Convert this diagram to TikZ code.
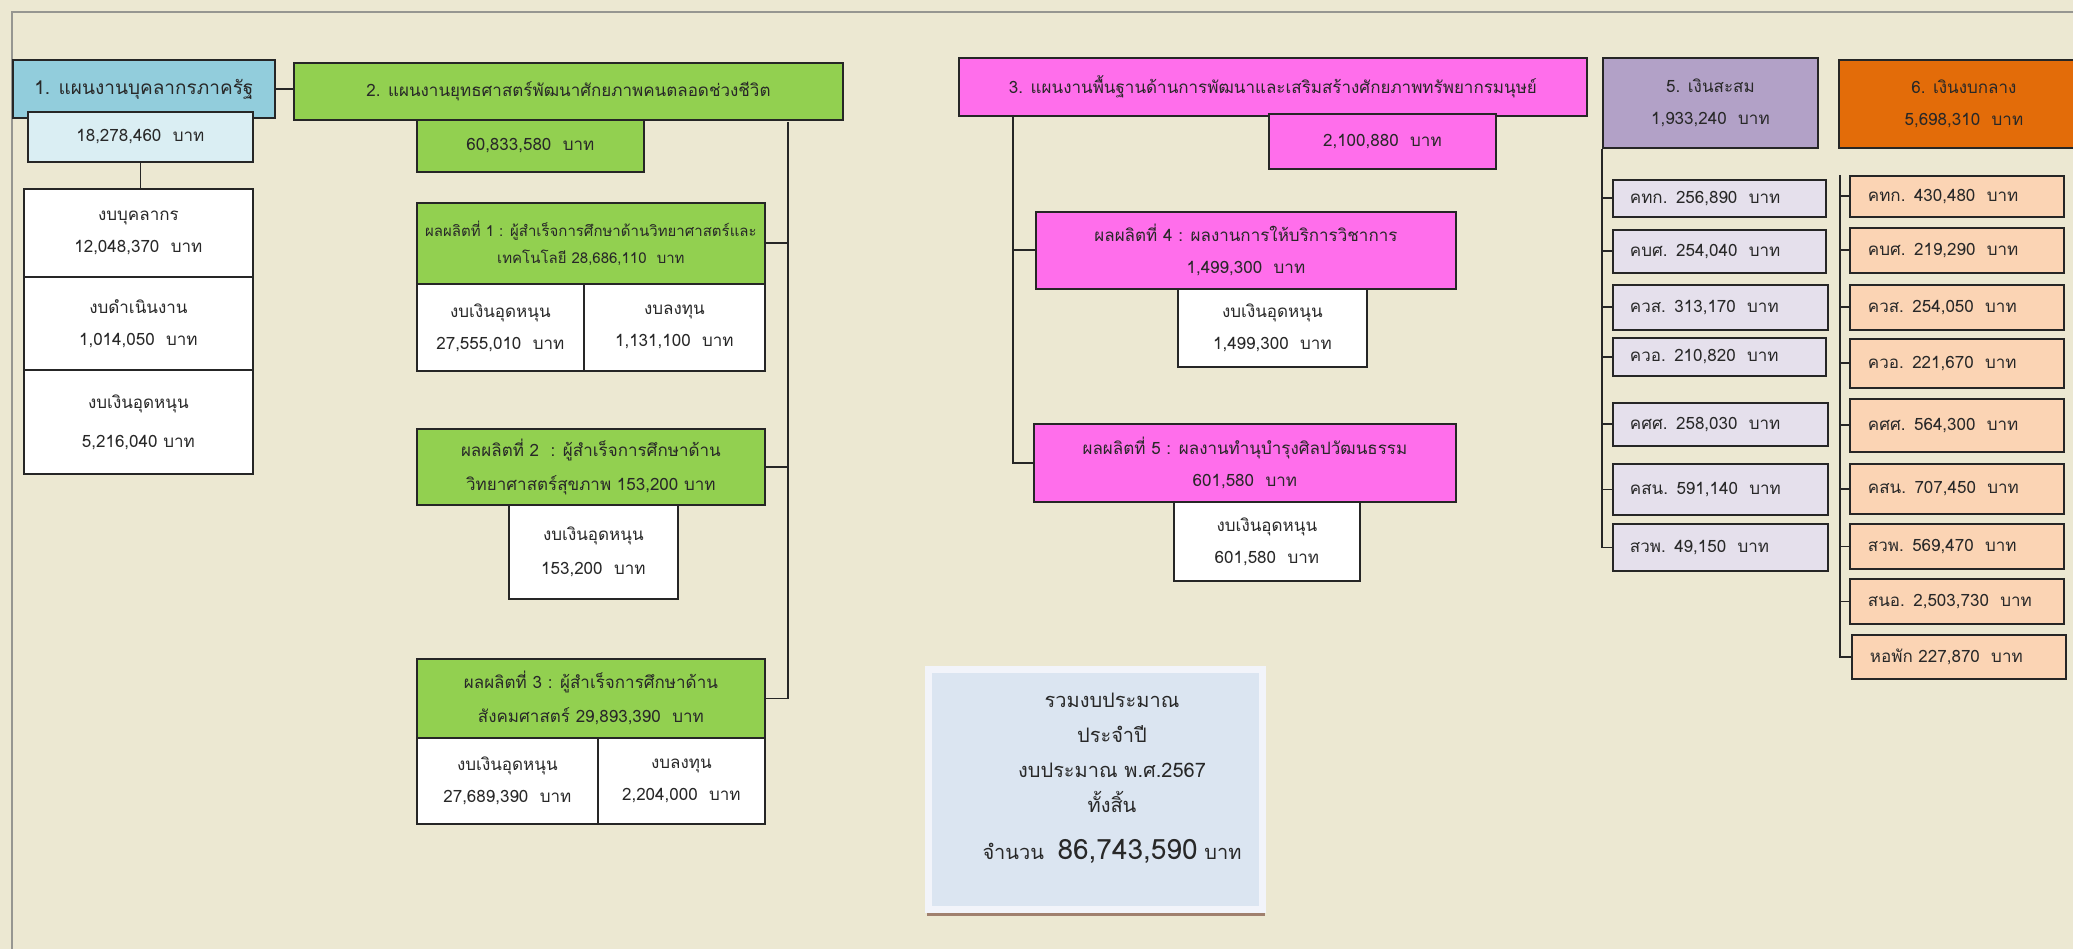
\documentclass[tikz,border=0pt]{standalone}
\usepackage{fontspec}
\newfontfamily\thai[Script=Thai]{Loma}
\definecolor{bgc}{RGB}{236,232,210}
\definecolor{framec}{RGB}{150,150,145}
\definecolor{hblue}{RGB}{146,205,220}
\definecolor{lblue}{RGB}{218,238,243}
\definecolor{grn}{RGB}{146,208,80}
\definecolor{mag}{RGB}{255,110,235}
\definecolor{purp}{RGB}{178,161,199}
\definecolor{lpurp}{RGB}{229,224,236}
\definecolor{orng}{RGB}{227,108,9}
\definecolor{lorng}{RGB}{251,212,180}
\definecolor{totc}{RGB}{219,229,241}
\definecolor{totb}{RGB}{242,244,250}
\definecolor{shadc}{RGB}{160,128,110}
\definecolor{txt}{RGB}{40,40,40}
\tikzset{
  bx/.style={draw=black!85, line width=1.8pt, anchor=north west, inner sep=0pt,
    align=center, text=txt, font=\thai\fontsize{17}{32}\selectfont},
  sm/.style={font=\thai\fontsize{15}{27}\selectfont},
  md/.style={font=\thai\fontsize{17}{34}\selectfont},
  kid/.style={bx, align=left, text width=#1, inner xsep=17pt},
  conn/.style={draw=black!85, line width=1.8pt},
}
\begin{document}
\begin{tikzpicture}[x=1pt,y=-1pt]
\clip (0,0) rectangle (2073,949);
\fill[bgc] (0,0) rectangle (2073,949);
\draw[framec, line width=2pt] (12,949) -- (12,12) -- (2073,12);
% plan 1
\node[bx, fill=hblue, minimum width=262pt, minimum height=58pt, font=\thai\fontsize{19}{32}\selectfont] (h1) at (12,59) {1. แผนงานบุคลากรภาครัฐ};
\node[bx, fill=lblue, minimum width=225pt, minimum height=50pt] (v1) at (27,111) {18,278,460 \ บาท};
\node[bx, fill=white, minimum width=229pt, minimum height=88pt] (t1a) at (23,188) {งบบุคลากร\\12,048,370 \ บาท};
\node[bx, fill=white, minimum width=229pt, minimum height=93pt] (t1b) at (23,276) {งบดำเนินงาน\\1,014,050 \ บาท};
\node[bx, fill=white, minimum width=229pt, minimum height=104pt, font=\thai\fontsize{17}{39}\selectfont] (t1c) at (23,369) {งบเงินอุดหนุน\\5,216,040 บาท};
% plan 2
\node[bx, fill=grn, minimum width=549pt, minimum height=57pt] (h2) at (293,62) {2. แผนงานยุทธศาสตร์พัฒนาศักยภาพคนตลอดช่วงชีวิต};
\node[bx, fill=grn, minimum width=227pt, minimum height=52pt] (v2) at (416,119) {60,833,580 \ บาท};
\node[bx, sm, fill=grn, minimum width=348pt, minimum height=81pt] (p1) at (416,202) {ผลผลิตที่ 1 : ผู้สำเร็จการศึกษาด้านวิทยาศาสตร์และ\\เทคโนโลยี 28,686,110 \ บาท};
\node[bx, fill=white, minimum width=167pt, minimum height=87pt] (p1a) at (416,283) {งบเงินอุดหนุน\\27,555,010 \ บาท};
\node[bx, fill=white, minimum width=181pt, minimum height=87pt] (p1b) at (583,283) {งบลงทุน\\1,131,100 \ บาท};
\node[bx, md, fill=grn, minimum width=348pt, minimum height=76pt] (p2) at (416,428) {ผลผลิตที่ 2 \ : ผู้สำเร็จการศึกษาด้าน\\วิทยาศาสตร์สุขภาพ 153,200 บาท};
\node[bx, md, fill=white, minimum width=169pt, minimum height=94pt] (p2a) at (508,504) {งบเงินอุดหนุน\\153,200 \ บาท};
\node[bx, md, fill=grn, minimum width=348pt, minimum height=79pt] (p3) at (416,658) {ผลผลิตที่ 3 : ผู้สำเร็จการศึกษาด้าน\\สังคมศาสตร์ 29,893,390 \ บาท};
\node[bx, fill=white, minimum width=181pt, minimum height=86pt] (p3a) at (416,737) {งบเงินอุดหนุน\\27,689,390 \ บาท};
\node[bx, fill=white, minimum width=167pt, minimum height=86pt] (p3b) at (597,737) {งบลงทุน\\2,204,000 \ บาท};
% plan 3
\node[bx, fill=mag, minimum width=628pt, minimum height=58pt] (h3) at (958,57) {3. แผนงานพื้นฐานด้านการพัฒนาและเสริมสร้างศักยภาพทรัพยากรมนุษย์};
\node[bx, fill=mag, minimum width=227pt, minimum height=55pt] (v3) at (1268,113) {2,100,880 \ บาท};
\node[bx, fill=mag, minimum width=420pt, minimum height=77pt] (p4) at (1035,211) {ผลผลิตที่ 4 : ผลงานการให้บริการวิชาการ\\1,499,300 \ บาท};
\node[bx, fill=white, minimum width=189pt, minimum height=78pt] (p4a) at (1177,288) {งบเงินอุดหนุน\\1,499,300 \ บาท};
\node[bx, fill=mag, minimum width=422pt, minimum height=78pt] (p5) at (1033,423) {ผลผลิตที่ 5 : ผลงานทำนุบำรุงศิลปวัฒนธรรม\\601,580 \ บาท};
\node[bx, fill=white, minimum width=186pt, minimum height=79pt] (p5a) at (1173,501) {งบเงินอุดหนุน\\601,580 \ บาท};
% plan 5
\node[bx, fill=purp, minimum width=215pt, minimum height=90pt] (h5) at (1602,57) {5. เงินสะสม\\1,933,240 \ บาท};
\node[kid=179pt, fill=lpurp, minimum height=37pt] (c5a) at (1612,179) {คทก. 256,890 \ บาท};
\node[kid=179pt, fill=lpurp, minimum height=43pt] (c5b) at (1612,229) {คบศ. 254,040 \ บาท};
\node[kid=181pt, fill=lpurp, minimum height=45pt] (c5c) at (1612,284) {ควส. 313,170 \ บาท};
\node[kid=179pt, fill=lpurp, minimum height=38pt] (c5d) at (1612,337) {ควอ. 210,820 \ บาท};
\node[kid=181pt, fill=lpurp, minimum height=43pt] (c5e) at (1612,402) {คศศ. 258,030 \ บาท};
\node[kid=181pt, fill=lpurp, minimum height=51pt] (c5f) at (1612,463) {คสน. 591,140 \ บาท};
\node[kid=181pt, fill=lpurp, minimum height=47pt] (c5g) at (1612,523) {สวพ. 49,150 \ บาท};
% plan 6
\node[bx, fill=orng, minimum width=250pt, minimum height=88pt] (h6) at (1838,59) {6. เงินงบกลาง\\5,698,310 \ บาท};
\node[kid=178pt, inner xsep=18pt, fill=lorng, minimum height=41pt] (c6a) at (1849,175) {คทก. 430,480 \ บาท};
\node[kid=178pt, inner xsep=18pt, fill=lorng, minimum height=45pt] (c6b) at (1849,227) {คบศ. 219,290 \ บาท};
\node[kid=178pt, inner xsep=18pt, fill=lorng, minimum height=45pt] (c6c) at (1849,284) {ควส. 254,050 \ บาท};
\node[kid=178pt, inner xsep=18pt, fill=lorng, minimum height=49pt] (c6d) at (1849,338) {ควอ. 221,670 \ บาท};
\node[kid=178pt, inner xsep=18pt, fill=lorng, minimum height=53pt] (c6e) at (1849,398) {คศศ. 564,300 \ บาท};
\node[kid=178pt, inner xsep=18pt, fill=lorng, minimum height=50pt] (c6f) at (1849,463) {คสน. 707,450 \ บาท};
\node[kid=178pt, inner xsep=18pt, fill=lorng, minimum height=45pt] (c6g) at (1849,523) {สวพ. 569,470 \ บาท};
\node[kid=178pt, inner xsep=18pt, fill=lorng, minimum height=45pt] (c6h) at (1849,578) {สนอ. 2,503,730 \ บาท};
\node[kid=178pt, inner xsep=18pt, fill=lorng, minimum height=44pt] (c6i) at (1851,634) {หอพัก 227,870 \ บาท};
% total
\fill[shadc] (927,905) rectangle (1265,916);
\node[draw=totb, line width=7pt, fill=totc, anchor=north west, minimum width=334pt, minimum height=240pt, inner sep=0pt] (tot) at (925,666) {};
\node[align=center, text=txt, font=\thai\fontsize{20}{35}\selectfont, anchor=north] (totl) at (1112,690)
  {รวมงบประมาณ\\ประจำปี\\งบประมาณ พ.ศ.2567\\ทั้งสิ้น\\[12pt]จำนวน \ {\fontsize{28}{35}\selectfont 86,743,590} บาท};
% connectors
\draw[conn] (h1.east) -- (h1.east -| h2.west);
\draw[conn] (v1.south) -- (v1.south |- t1a.north);
\coordinate (B2) at (788,122);
\draw[conn] (B2) |- (p3.east);
\draw[conn] (p1.east) -- (p1.east -| B2);
\draw[conn] (p2.east) -- (p2.east -| B2);
\coordinate (B3) at (1013,115);
\draw[conn] (B3) |- (p5.west);
\draw[conn] (p4.west) -- (p4.west -| B3);
\draw[conn] (h5.south west) |- (c5g.west);
\foreach \n in {c5a,c5b,c5c,c5d,c5e,c5f} \draw[conn] (\n.west) -- (\n.west -| h5.south west);
\coordinate (B6) at (1840,175);
\draw[conn] (B6) |- (c6i.west);
\foreach \n in {c6a,c6b,c6c,c6d,c6e,c6f,c6g,c6h} \draw[conn] (\n.west) -- (\n.west -| B6);
\end{tikzpicture}
\end{document}
